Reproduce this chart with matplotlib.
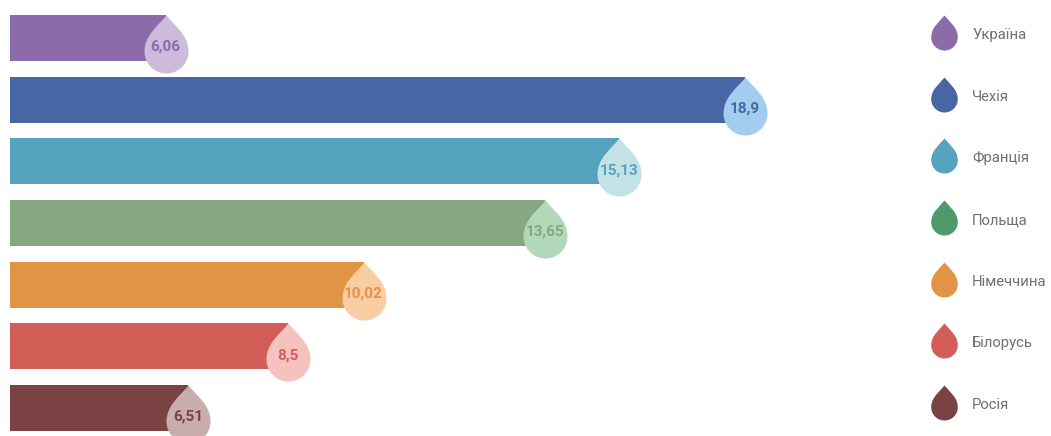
import numpy as np
import matplotlib
matplotlib.use("Agg")
import matplotlib.pyplot as plt
from matplotlib.path import Path

# data
countries = ["Україна", "Чехія", "Франція", "Польща", "Німеччина", "Білорусь", "Росія"]
values = [6.06, 18.9, 15.13, 13.65, 10.02, 8.5, 6.51]
labels = ["6,06", "18,9", "15,13", "13,65", "10,02", "8,5", "6,51"]
bar_colors = ["#8b6baa", "#4866a3", "#56a3bf", "#87a682", "#e29446", "#d35e58", "#7a4242"]
drop_colors = ["#cdbbdc", "#a3cdef", "#c2e2e6", "#b3d7b9", "#f8cda2", "#f5c3bf", "#c8adad"]
legend_colors = ["#8b6baa", "#4866a3", "#56a3bf", "#4e9a6a", "#e29446", "#d35e58", "#7a4242"]

W, H, DPI = 1051, 436, 100
PX = 72.0 / DPI  # points per pixel


def drop_path(r=22.0, d=36.0):
    # teardrop, tip at origin, pointing up
    verts = [(0, 0),
             (0.4 * r, -0.3 * d), (r, -0.55 * d), (r, -d)]
    codes = [Path.MOVETO, Path.CURVE4, Path.CURVE4, Path.CURVE4]
    t = np.linspace(0, np.pi, 40)
    for a in t[1:]:
        verts.append((r * np.cos(a), -d - r * np.sin(a)))
        codes.append(Path.LINETO)
    verts += [(-r, -0.55 * d), (-0.4 * r, -0.3 * d), (0, 0)]
    codes += [Path.CURVE4, Path.CURVE4, Path.CURVE4]
    return Path(verts, codes)


DROP = drop_path()
DROP_H = 58.0  # px from tip to bottom

fig = plt.figure(figsize=(W / DPI, H / DPI), dpi=DPI)

step = 61.67
bar_h = 46 / step
y = np.arange(len(countries))
ytop = -38 / step
ybot = (H - 38) / step

ax = fig.add_axes([10 / W, 0, 735 / W, 1])
xmin, xmax = 2.95, 17.65
ax.barh(y, values, height=bar_h, color=bar_colors)
ax.set_xlim(xmin, xmax)
ax.set_ylim(ybot, ytop)
ax.axis("off")

for i, v in enumerate(values):
    xe = min(v, xmax)
    yt = i - bar_h / 2
    ax.plot([xe], [yt], marker=DROP, markersize=2 * DROP_H * PX,
            color=drop_colors[i], markeredgewidth=0, clip_on=False, zorder=3)
    ax.annotate(labels[i], (xe, yt), xytext=(0, -32 * PX), textcoords="offset points",
                ha="center", va="center", fontsize=11, family="Roboto",
                fontweight="bold", color=bar_colors[i], zorder=4,
                annotation_clip=False)

# legend
lax = fig.add_axes([920 / W, 0, 131 / W, 1])
lax.set_xlim(0, 131)
lax.set_ylim(ybot, ytop)
lax.axis("off")
for i, c in enumerate(countries):
    yt = i - bar_h / 2
    lax.plot([23.5], [yt], marker=DROP, markersize=2 * 35 * PX,
             color=legend_colors[i], markeredgewidth=0, clip_on=False)
    lax.annotate(c, (52, yt), xytext=(0, -20 * PX), textcoords="offset points",
                 ha="left", va="center", fontsize=10.7, family="Roboto",
                 color="#707070", annotation_clip=False)

fig.savefig("out.png", dpi=DPI)
